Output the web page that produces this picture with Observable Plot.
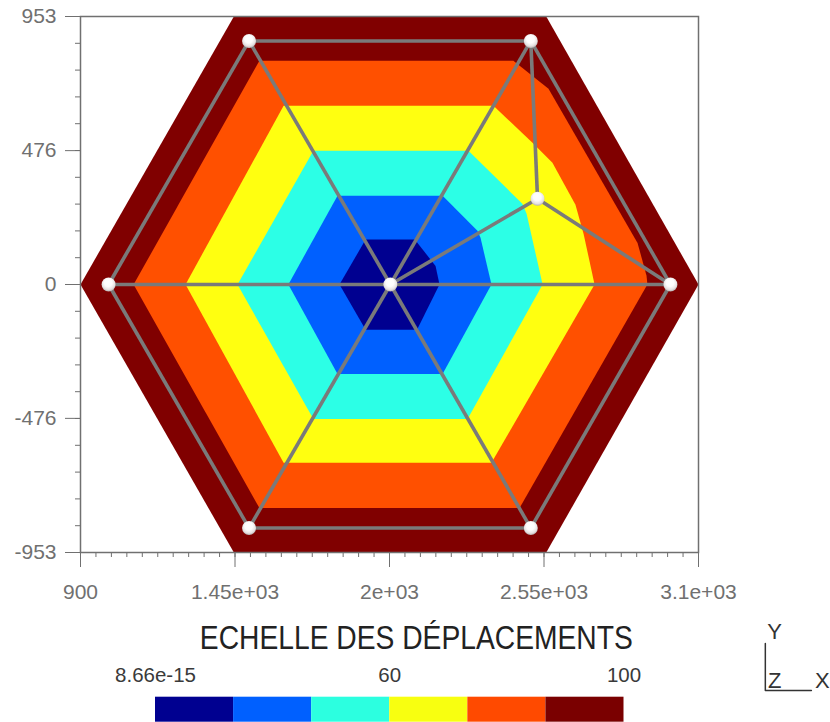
<!DOCTYPE html>
<html>
<head>
<meta charset="utf-8">
<script src="https://cdn.jsdelivr.net/npm/d3@7"></script>
<script src="https://cdn.jsdelivr.net/npm/@observablehq/plot@0.6"></script>
<style>
html,body{margin:0;padding:0;background:#fff;width:830px;height:722px;overflow:hidden}
svg{display:block;overflow:visible}
</style>
</head>
<body>
<div id="chart"></div>
<script>
// Contour classes, outermost first
const bandColors = ["#800000", "#ff5000", "#ffff10", "#2cffe6", "#0060ff", "#000090"];
const legendColors = ["#000090", "#0060ff", "#2cffe0", "#f8ff10", "#ff4a00", "#7a0000"];

const band100 = [[900,0],[1446,953],[2558,953],[3100,0],[2558,-953],[1446,-953]];
const band80 = [[1089,0],[1537,796],[2441,796],[2566,696],[2883,148],[2915,31],[2918,0],[2463,-795],[1537,-795]];
const band60 = [[1274,0],[1623,636],[2370,636],[2509,504],[2580,433],[2662,284],[2691,180],[2730,0],[2363,-634],[1623,-634]];
const band40 = [[1459,0],[1729,476],[2281,476],[2473,287],[2488,252],[2545,0],[2278,-478],[1729,-478]];
const band20 = [[1640,0],[1815,316],[2189,316],[2313,191],[2324,166],[2363,0],[2189,-318],[1815,-318]];
const band0 = [[1822,0],[1915,160],[2090,160],[2164,66],[2178,0],[2098,-161],[1915,-161]];
const bands = [band100, band80, band60, band40, band20, band0];

// Mesh
const nodeX = [2003, 1000, 1500, 2503, 3000, 2503, 1500, 2527];
const nodeY = [0, 0, 866, 866, 0, -866, -866, 305];
const edges = [[1,2],[2,3],[3,4],[4,5],[5,6],[6,1],[0,1],[0,2],[0,3],[0,4],[0,5],[0,6],[0,7],[7,3],[7,4]];

// Axes
const xMajor = [900, 1450, 2000, 2550, 3100];
const xLabels = ["900", "1.45e+03", "2e+03", "2.55e+03", "3.1e+03"];
const yMajor = [953, 476, 0, -476, -953];
const yLabels = ["953", "476", "0", "-476", "-953"];
const xMinor = d3.range(0, 41).map(i => 900 + 55 * i);
const yMinor = d3.range(-10, 11).map(i => 95.3 * i);

// Legend
const legendTitle = "ECHELLE DES DÉPLACEMENTS";
const legendTickPos = [0, 3, 6];
const legendTicks = ["8.66e-15", "60", "100"];
const triadLabels = ["Y", "Z", "X"];
const triadX = [7.93, 7.93, 8.54];
const triadY = [3.59, 1.63, 1.65];

const gray = "#7a7a7a";
const axisColor = "#707070";
const tickFont = {fontSize: 21, fontFamily: "Liberation Sans"};

const defs = () => {
  const s = d3.create("svg:defs");
  const g = s.append("radialGradient").attr("id", "sphere")
    .attr("cx", "0.5").attr("cy", "0.42").attr("r", "0.62")
    .attr("fx", "0.45").attr("fy", "0.32");
  g.append("stop").attr("offset", "0%").attr("stop-color", "#ffffff");
  g.append("stop").attr("offset", "45%").attr("stop-color", "#fdfcfc");
  g.append("stop").attr("offset", "75%").attr("stop-color", "#e6e2e2");
  g.append("stop").attr("offset", "100%").attr("stop-color", "#a8a2a2");
  return s.node();
};

const main = Plot.plot({
  width: 830, height: 590,
  marginLeft: 80, marginRight: 132, marginTop: 16, marginBottom: 38,
  style: {background: "transparent"},
  x: {domain: [900, 3100]},
  y: {domain: [-953, 953]},
  marks: [
    defs,
    ...bands.map((poly, i) => Plot.line(poly, {
      x: d => d[0], y: d => d[1], curve: "linear-closed",
      fill: bandColors[i], stroke: "none"
    })),
    Plot.link(edges, {
      x1: e => nodeX[e[0]], y1: e => nodeY[e[0]],
      x2: e => nodeX[e[1]], y2: e => nodeY[e[1]],
      stroke: gray, strokeWidth: 3.6
    }),
    Plot.dot(nodeX.map((x, i) => ({x, y: nodeY[i]})), {
      x: "x", y: "y", r: 7, fill: "url(#sphere)", stroke: "none"
    }),
    Plot.frame({stroke: axisColor, strokeWidth: 1.5}),
    Plot.axisX({ticks: xMinor, tickSize: 5, tickFormat: () => "", color: axisColor, label: null}),
    Plot.axisY({ticks: yMinor, tickSize: 5, tickFormat: () => "", color: axisColor, label: null}),
    Plot.axisX({ticks: xMajor, tickSize: 15, tickPadding: 17, color: axisColor, label: null,
      tickFormat: d => xLabels[xMajor.indexOf(d)], ...tickFont}),
    Plot.axisY({ticks: yMajor, tickSize: 15, tickPadding: 9, color: axisColor, label: null,
      tickFormat: d => yLabels[yMajor.indexOf(d)], ...tickFont})
  ]
});

const legend = Plot.plot({
  width: 830, height: 132,
  marginLeft: 0, marginRight: 0, marginTop: 0, marginBottom: 0,
  style: {background: "transparent"},
  x: {domain: [0, 6], range: [155, 623.5], axis: null},
  y: {domain: [0, 1], range: [131.7, 106.7], axis: null},
  marks: [
    Plot.rect(legendColors, {
      x1: (d, i) => i, x2: (d, i) => i + 1, y1: 0, y2: 1,
      fill: d => d, inset: 0
    }),
    Plot.text(legendTicks, {
      x: (d, i) => legendTickPos[i], y: 1.89, text: d => d,
      fontSize: 20.5, fontFamily: "Liberation Sans", fill: "#3a3a3a"
    }),
    Plot.text([legendTitle], {
      x: 3.34, y: 3.35, text: d => d,
      fontSize: 33, fontFamily: "Liberation Sans", fill: "#222", className: "legend-title"
    }),
    Plot.line([[0, 3.15], [0, 1.27], [1, 1.27]].map(([a, b]) => [7.81 + a * 0.59, b]), {
      x: d => d[0], y: d => d[1], stroke: "#333", strokeWidth: 1.5
    }),
    Plot.text(triadLabels, {
      x: (d, i) => triadX[i], y: (d, i) => triadY[i], text: d => d,
      fontSize: 22, fontFamily: "Liberation Sans", fill: "#333"
    })
  ]
});
legend.querySelectorAll(".legend-title text").forEach(t => {
  t.setAttribute("textLength", "433");
  t.setAttribute("lengthAdjust", "spacingAndGlyphs");
});

const host = document.getElementById("chart");
host.append(main, legend);
</script>
</body>
</html>
